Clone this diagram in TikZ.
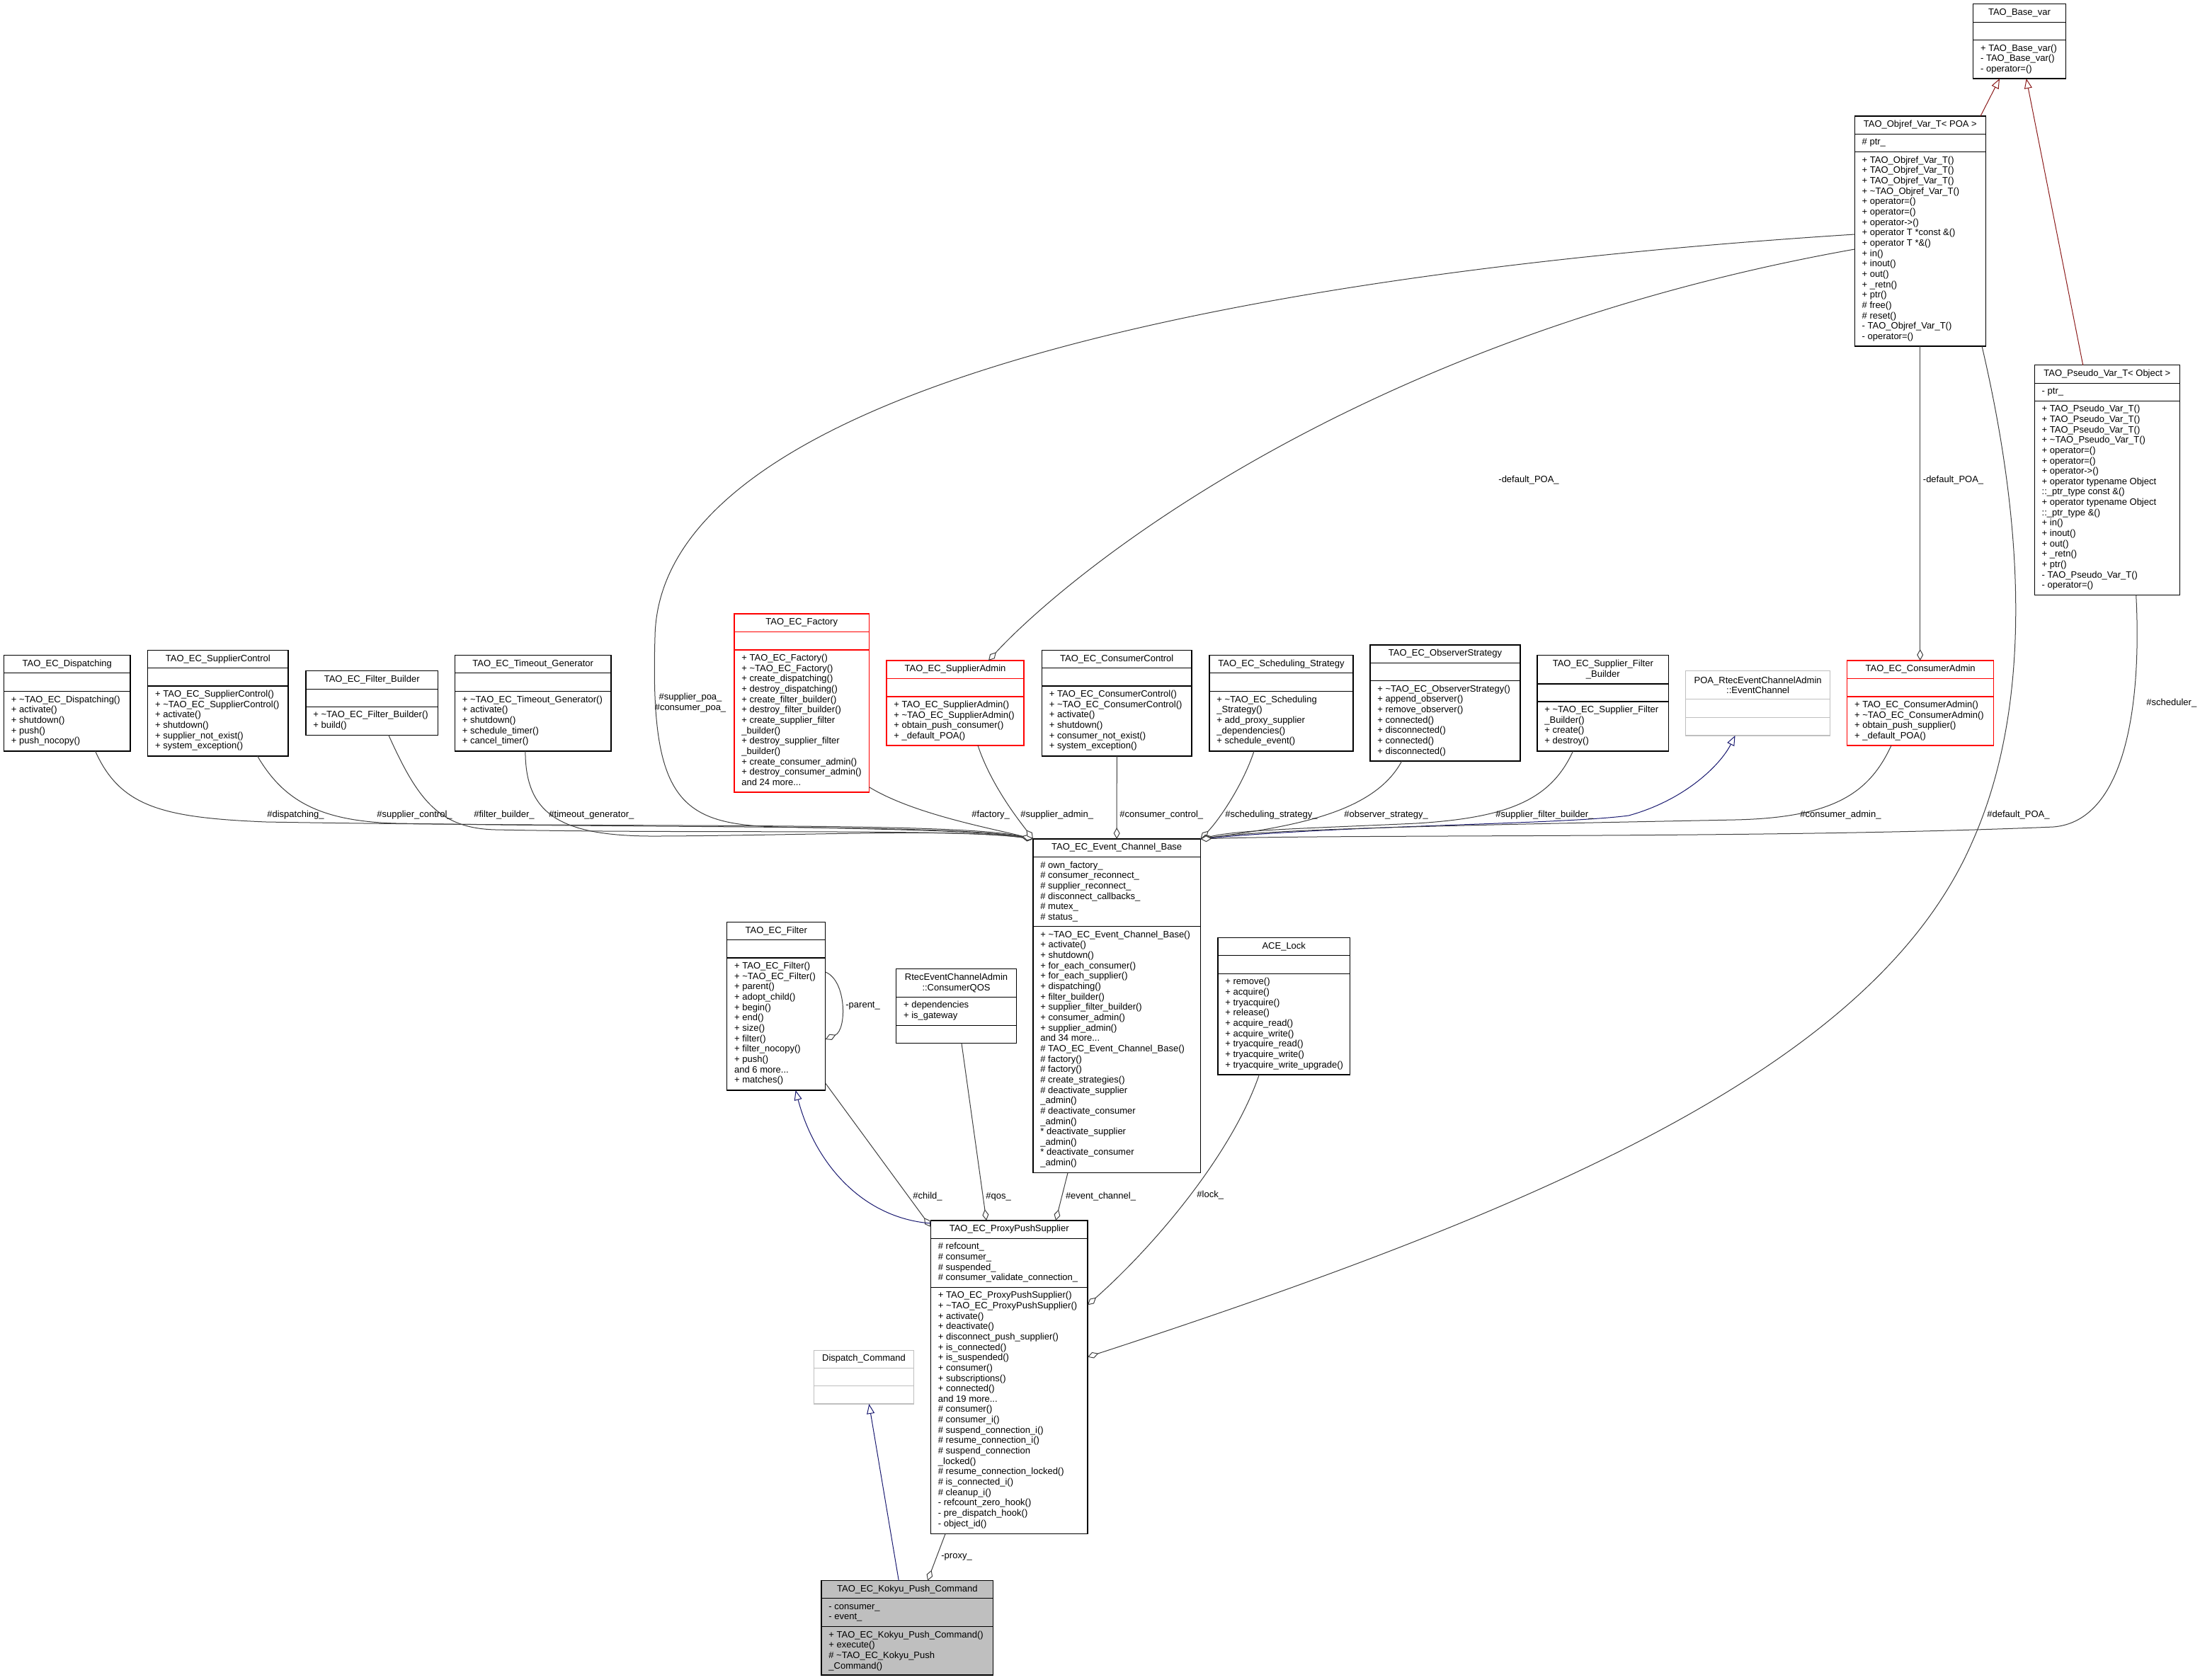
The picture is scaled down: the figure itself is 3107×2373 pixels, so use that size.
\documentclass[tikz,border=0pt]{standalone}
\usepackage{fontspec}
\setmainfont{Liberation Sans}
\usetikzlibrary{arrows.meta,calc}
\newcommand\lstfont{\fontsize{6.5pt}{7.33pt}\selectfont}
\newcommand\fs{\rule{0pt}{5pt}}
\newcommand\tld{\textasciitilde}
\definecolor{edgec}{HTML}{404040}
\definecolor{inhb}{HTML}{191970}
\definecolor{inhr}{HTML}{8B1A1A}
\definecolor{extg}{HTML}{BFBFBF}
\definecolor{kfill}{HTML}{BFBFBF}
\tikzset{
  boxsty/.style={anchor=north west, inner sep=0pt, outer sep=0pt, line width=0.6pt, fill=white},
  ttl/.style={anchor=base, inner sep=0pt, font=\lstfont},
  ttlc/.style={anchor=center, inner sep=0pt, font=\lstfont, align=center},
  lst/.style={anchor=north west, inner sep=0pt, font=\lstfont, align=left},
  lbl/.style={anchor=west, inner sep=0pt, font=\lstfont},
  agg/.style={draw=edgec, line width=0.5pt, -{Diamond[fill=white,length=8pt,width=4.5pt]}},
  inhB/.style={draw=inhb, line width=0.5pt, -{Triangle[fill=white,length=7pt,width=5.5pt]}},
  inhR/.style={draw=inhr, line width=0.5pt, -{Triangle[fill=white,length=7pt,width=5.5pt]}},
}
\newcommand\umlbox[9][]{%
  \def\cxa{#3}\def\cya{#4}\def\cxb{#5}\def\cda{#7}\def\cdb{#8}%
  \node[boxsty,draw=#9,#1,minimum width={(#5-#3)*0.5pt},minimum height={(#6-#4)*0.5pt}] (#2) at (#3,#4) {};
  \draw[#9,line width=0.6pt] (#3,#7) -- (#5,#7) (#3,#8) -- (#5,#8);
}
\newcommand\umltext[4]{%
  \node[ttl] (#1t) at ({(\cxa+\cxb)/2},\cya+15.5) {#2};
  \if\relax\detokenize{#3}\relax\else
  \node[lst] (#1a) at (\cxa+10,\cda+5) {\fs#3};\fi
  \if\relax\detokenize{#4}\relax\else
  \node[lst] (#1m) at (\cxa+10,\cdb+5) {\fs#4};\fi
}
\newcommand\umltextB[4]{%
  \node[ttlc] (#1t) at ({(\cxa+\cxb)/2},{(\cya+\cda)/2}) {#2};
  \if\relax\detokenize{#3}\relax\else
  \node[lst] (#1a) at (\cxa+10,\cda+5) {\fs#3};\fi
  \if\relax\detokenize{#4}\relax\else
  \node[lst] (#1m) at (\cxa+10,\cdb+5) {\fs#4};\fi
}
\begin{document}
\begin{tikzpicture}[x=0.5pt,y=-0.5pt]
\fill[white] (0,0) rectangle (3107,2373);
\useasboundingbox (0,0) rectangle (3107,2373);

% ---------- boxes ----------
\umlbox{basevar}{2786.7}{5.7}{2917.3}{111}{31.3}{56.7}{black}
\umltext{basevar}{TAO\_Base\_var}{}{+ TAO\_Base\_var()\\- TAO\_Base\_var()\\- operator=()}

\umlbox{objref}{2619.3}{164}{2804.3}{489}{189.3}{214.7}{black}
\umltext{objref}{TAO\_Objref\_Var\_T< POA >}{\# ptr\_}{+ TAO\_Objref\_Var\_T()\\+ TAO\_Objref\_Var\_T()\\+ TAO\_Objref\_Var\_T()\\+ \tld{}TAO\_Objref\_Var\_T()\\+ operator=()\\+ operator=()\\+ operator->()\\+ operator T *const \&()\\+ operator T *\&()\\+ in()\\+ inout()\\+ out()\\+ \_retn()\\+ ptr()\\\# free()\\\# reset()\\- TAO\_Objref\_Var\_T()\\- operator=()}

\umlbox{pseudo}{2873.3}{515.7}{3078.3}{840.7}{541.3}{566.3}{black}
\umltext{pseudo}{TAO\_Pseudo\_Var\_T< Object >}{- ptr\_}{+ TAO\_Pseudo\_Var\_T()\\+ TAO\_Pseudo\_Var\_T()\\+ TAO\_Pseudo\_Var\_T()\\+ \tld{}TAO\_Pseudo\_Var\_T()\\+ operator=()\\+ operator=()\\+ operator->()\\+ operator typename Object\\::\_ptr\_type const \&()\\+ operator typename Object\\::\_ptr\_type \&()\\+ in()\\+ inout()\\+ out()\\+ \_retn()\\+ ptr()\\- TAO\_Pseudo\_Var\_T()\\- operator=()}

\umlbox{dispatching}{5.6}{925.7}{184}{1061}{950.7}{976.7}{black}
\umltext{dispatching}{TAO\_EC\_Dispatching}{}{+ \tld{}TAO\_EC\_Dispatching()\\+ activate()\\+ shutdown()\\+ push()\\+ push\_nocopy()}

\umlbox{supctrl}{208.8}{918.7}{406.9}{1068}{943.7}{969}{black}
\umltext{supctrl}{TAO\_EC\_SupplierControl}{}{+ TAO\_EC\_SupplierControl()\\+ \tld{}TAO\_EC\_SupplierControl()\\+ activate()\\+ shutdown()\\+ supplier\_not\_exist()\\+ system\_exception()}

\umlbox{filtbuild}{432}{947.7}{618.4}{1038.3}{973.3}{998.3}{black}
\umltext{filtbuild}{TAO\_EC\_Filter\_Builder}{}{+ \tld{}TAO\_EC\_Filter\_Builder()\\+ build()}

\umlbox{timeout}{642.5}{925.7}{863}{1061}{950.7}{976.7}{black}
\umltext{timeout}{TAO\_EC\_Timeout\_Generator}{}{+ \tld{}TAO\_EC\_Timeout\_Generator()\\+ activate()\\+ shutdown()\\+ schedule\_timer()\\+ cancel\_timer()}

\umlbox{factory}{1037}{867}{1227.4}{1119}{892.7}{918}{red}
\umltext{factory}{TAO\_EC\_Factory}{}{+ TAO\_EC\_Factory()\\+ \tld{}TAO\_EC\_Factory()\\+ create\_dispatching()\\+ destroy\_dispatching()\\+ create\_filter\_builder()\\+ destroy\_filter\_builder()\\+ create\_supplier\_filter\\\_builder()\\+ destroy\_supplier\_filter\\\_builder()\\+ create\_consumer\_admin()\\+ destroy\_consumer\_admin()\\and 24 more...}

\umlbox{supadmin}{1252}{933}{1446}{1053}{958.7}{984}{red}
\umltext{supadmin}{TAO\_EC\_SupplierAdmin}{}{+ TAO\_EC\_SupplierAdmin()\\+ \tld{}TAO\_EC\_SupplierAdmin()\\+ obtain\_push\_consumer()\\+ \_default\_POA()}

\umlbox{conctrl}{1471.5}{918.7}{1683}{1068}{943.7}{969}{black}
\umltext{conctrl}{TAO\_EC\_ConsumerControl}{}{+ TAO\_EC\_ConsumerControl()\\+ \tld{}TAO\_EC\_ConsumerControl()\\+ activate()\\+ shutdown()\\+ consumer\_not\_exist()\\+ system\_exception()}

\umlbox{sched}{1708}{925.7}{1911}{1061}{950.7}{976.7}{black}
\umltext{sched}{TAO\_EC\_Scheduling\_Strategy}{}{+ \tld{}TAO\_EC\_Scheduling\\\_Strategy()\\+ add\_proxy\_supplier\\\_dependencies()\\+ schedule\_event()}

\umlbox{observer}{1935}{911}{2147}{1075}{936.7}{961.7}{black}
\umltext{observer}{TAO\_EC\_ObserverStrategy}{}{+ \tld{}TAO\_EC\_ObserverStrategy()\\+ append\_observer()\\+ remove\_observer()\\+ connected()\\+ disconnected()\\+ connected()\\+ disconnected()}

\umlbox{supfiltbuild}{2171}{925.7}{2356.6}{1061}{966}{991}{black}
\umltextB{supfiltbuild}{TAO\_EC\_Supplier\_Filter\\\_Builder}{}{+ \tld{}TAO\_EC\_Supplier\_Filter\\\_Builder()\\+ create()\\+ destroy()}

\umlbox{poaec}{2380.5}{947.7}{2584.8}{1039}{987.7}{1013.3}{extg}
\umltextB{poaec}{POA\_RtecEventChannelAdmin\\::EventChannel}{}{}

\umlbox{conadmin}{2608.7}{933}{2815.6}{1053}{958.7}{984}{red}
\umltext{conadmin}{TAO\_EC\_ConsumerAdmin}{}{+ TAO\_EC\_ConsumerAdmin()\\+ \tld{}TAO\_EC\_ConsumerAdmin()\\+ obtain\_push\_supplier()\\+ \_default\_POA()}

\umlbox{ecb}{1459}{1185}{1695.4}{1656.7}{1210.7}{1308.7}{black}
\umltext{ecb}{TAO\_EC\_Event\_Channel\_Base}{\# own\_factory\_\\\# consumer\_reconnect\_\\\# supplier\_reconnect\_\\\# disconnect\_callbacks\_\\\# mutex\_\\\# status\_}{+ \tld{}TAO\_EC\_Event\_Channel\_Base()\\+ activate()\\+ shutdown()\\+ for\_each\_consumer()\\+ for\_each\_supplier()\\+ dispatching()\\+ filter\_builder()\\+ supplier\_filter\_builder()\\+ consumer\_admin()\\+ supplier\_admin()\\and 34 more...\\\# TAO\_EC\_Event\_Channel\_Base()\\\# factory()\\\# factory()\\\# create\_strategies()\\\# deactivate\_supplier\\\_admin()\\\# deactivate\_consumer\\\_admin()\\{}* deactivate\_supplier\\\_admin()\\{}* deactivate\_consumer\\\_admin()}

\umlbox{filter}{1026.8}{1302.7}{1165.7}{1540}{1327.7}{1353}{black}
\umltext{filter}{TAO\_EC\_Filter}{}{+ TAO\_EC\_Filter()\\+ \tld{}TAO\_EC\_Filter()\\+ parent()\\+ adopt\_child()\\+ begin()\\+ end()\\+ size()\\+ filter()\\+ filter\_nocopy()\\+ push()\\and 6 more...\\+ matches()}

\umlbox{qos}{1265.7}{1368.7}{1435.4}{1473.7}{1408.3}{1448.3}{black}
\umltextB{qos}{RtecEventChannelAdmin\\::ConsumerQOS}{+ dependencies\\+ is\_gateway}{}

\umlbox{acelock}{1720}{1324.5}{1906.5}{1518}{1349.7}{1375.3}{black}
\umltext{acelock}{ACE\_Lock}{}{+ remove()\\+ acquire()\\+ tryacquire()\\+ release()\\+ acquire\_read()\\+ acquire\_write()\\+ tryacquire\_read()\\+ tryacquire\_write()\\+ tryacquire\_write\_upgrade()}

\umlbox{pps}{1314.5}{1724}{1536}{2166.7}{1749.3}{1818.3}{black}
\umltext{pps}{TAO\_EC\_ProxyPushSupplier}{\# refcount\_\\\# consumer\_\\\# suspended\_\\\# consumer\_validate\_connection\_}{+ TAO\_EC\_ProxyPushSupplier()\\+ \tld{}TAO\_EC\_ProxyPushSupplier()\\+ activate()\\+ deactivate()\\+ disconnect\_push\_supplier()\\+ is\_connected()\\+ is\_suspended()\\+ consumer()\\+ subscriptions()\\+ connected()\\and 19 more...\\\# consumer()\\\# consumer\_i()\\\# suspend\_connection\_i()\\\# resume\_connection\_i()\\\# suspend\_connection\\\_locked()\\\# resume\_connection\_locked()\\\# is\_connected\_i()\\\# cleanup\_i()\\- refcount\_zero\_hook()\\- pre\_dispatch\_hook()\\- object\_id()}

\umlbox{dispcmd}{1149.3}{1907.3}{1290.7}{1983}{1932.3}{1957.7}{extg}
\umltext{dispcmd}{Dispatch\_Command}{}{}

\umlbox[fill=kfill]{kokyu}{1160}{2232.7}{1402.7}{2366}{2257.7}{2297.7}{black}
\umltext{kokyu}{TAO\_EC\_Kokyu\_Push\_Command}{- consumer\_\\- event\_}{+ TAO\_EC\_Kokyu\_Push\_Command()\\+ execute()\\\# \tld{}TAO\_EC\_Kokyu\_Push\\\_Command()}

% ---------- edges ----------
\draw[agg] ($(objref.north west)+(0,167)$) .. controls (1700,390) and (930,560) .. (925,900) .. controls (918,1130) and (960,1165) .. (1100,1168) .. controls (1300,1172) and (1400,1175) .. (ecb.north west);
\draw[agg] ($(dispatching.south west)+(129,0)$) .. controls (170,1140) and (230,1155) .. (376,1161) .. controls (900,1170) and (1350,1160) .. (ecb.north west);
\draw[agg] ($(supctrl.south west)+(154.8,0)$) .. controls (400,1130) and (450,1160) .. (560,1163) .. controls (1000,1170) and (1350,1165) .. (ecb.north west);
\draw[agg] ($(filtbuild.south west)+(116.8,0)$) .. controls (590,1130) and (620,1170) .. (700,1172) .. controls (1000,1178) and (1350,1170) .. (ecb.north west);
\draw[agg] ($(timeout.south west)+(99.4,0)$) .. controls (742,1150) and (790,1182) .. (930,1181) .. controls (1150,1180) and (1350,1170) .. (ecb.north west);
\draw[agg] ($(factory.south east)+(0,-7.3)$) .. controls (1290,1150) and (1400,1170) .. (ecb.north west);
\draw[agg] ($(supadmin.south west)+(129,0)$) .. controls (1400,1110) and (1440,1160) .. (ecb.north west);
\draw[agg] (conctrl.south) -- (ecb.north);
\draw[agg] ($(sched.south west)+(63,0)$) .. controls (1755,1110) and (1720,1160) .. (ecb.north east);
\draw[agg] ($(observer.south west)+(44.7,0)$) .. controls (1940,1150) and (1820,1168) .. (ecb.north east);
\draw[agg] ($(supfiltbuild.south west)+(50.5,0)$) .. controls (2190,1130) and (2130,1155) .. (2000,1163) .. controls (1850,1170) and (1750,1172) .. (ecb.north east);
\draw[inhB] (ecb.north east) .. controls (1900,1165) and (2200,1165) .. (2300,1152) .. controls (2380,1130) and (2430,1080) .. ($(poaec.south west)+(70,0)$);
\draw[agg] ($(conadmin.south west)+(62.3,0)$) .. controls (2640,1120) and (2590,1155) .. (2450,1158) .. controls (2100,1165) and (1800,1170) .. (ecb.north east);
\draw[agg] ($(pseudo.south west)+(143.4,0)$) .. controls (3025,1000) and (3000,1160) .. (2900,1168) .. controls (2500,1185) and (1900,1178) .. (ecb.north east);
\draw[agg] ($(objref.south east)+(-5.3,0)$) .. controls (2860,750) and (2870,1000) .. (2785,1190) .. controls (2650,1500) and (2200,1700) .. ($(pps.north east)+(0,192.7)$);
\draw[agg] ($(objref.north west)+(0,188)$) .. controls (1900,480) and (1500,820) .. ($(supadmin.north west)+(144,0)$);
\draw[agg] ($(objref.south west)+(92.4,0)$) -- ($(conadmin.north west)+(103,0)$);
\draw[agg] ($(acelock.south west)+(58.3,0)$) .. controls (1740,1630) and (1630,1760) .. ($(pps.north east)+(0,119.3)$);
\draw[agg] ($(ecb.south west)+(49,0)$) -- ($(pps.north west)+(176.5,0)$);
\draw[agg] ($(qos.south west)+(92.3,0)$) -- ($(pps.north west)+(78.5,0)$);
\draw[agg] ($(filter.south east)+(0,-10)$) -- ($(pps.north west)+(0,9)$);
\draw[inhB] ($(pps.north west)+(0,4)$) .. controls (1215,1720) and (1150,1640) .. ($(filter.south west)+(96.8,0)$);
\draw[agg] ($(filter.north east)+(0,70.3)$) .. controls (1196,1385) and (1196,1455) .. ($(filter.north east)+(0,165.3)$);
\draw[agg] ($(pps.south west)+(20.5,0)$) -- ($(kokyu.north west)+(150,0)$);
\draw[inhB] ($(kokyu.north west)+(109.3,0)$) -- ($(dispcmd.south west)+(78,0)$);
\draw[inhR] ($(objref.north west)+(177.7,0)$) -- ($(basevar.south west)+(37.3,0)$);
\draw[inhR] ($(pseudo.north west)+(68.4,0)$) -- ($(basevar.south west)+(75,0)$);

% ---------- labels ----------
\node[anchor=center, inner sep=0pt, font=\lstfont, align=center] (lsuppoa) at (975,992.5) {\#supplier\_poa\_\\\#consumer\_poa\_};
\node[lbl] (ldisp) at (377,1151) {\#dispatching\_};
\node[lbl] (lsupc) at (532,1151) {\#supplier\_control\_};
\node[lbl] (lfb) at (669,1151) {\#filter\_builder\_};
\node[lbl] (ltg) at (775,1151) {\#timeout\_generator\_};
\node[lbl] (lfac) at (1372,1151) {\#factory\_};
\node[lbl] (lsa) at (1441,1151) {\#supplier\_admin\_};
\node[lbl] (lcc) at (1581,1151) {\#consumer\_control\_};
\node[lbl] (lss) at (1730,1151) {\#scheduling\_strategy\_};
\node[lbl] (los) at (1898,1151) {\#observer\_strategy\_};
\node[lbl] (lsfb) at (2112,1151) {\#supplier\_filter\_builder\_};
\node[lbl] (lca) at (2542,1151) {\#consumer\_admin\_};
\node[lbl] (ldp) at (2806,1151) {\#default\_POA\_};
\node[lbl] (lsch) at (3031,993) {\#scheduler\_};
\node[lbl] (ldp1) at (2116,677.7) {-default\_POA\_};
\node[lbl] (ldp2) at (2715.5,677.7) {-default\_POA\_};
\node[lbl] (lpar) at (1194,1420.7) {-parent\_};
\node[lbl] (lchild) at (1289,1690) {\#child\_};
\node[lbl] (lqos) at (1392,1690) {\#qos\_};
\node[lbl] (lec) at (1504.6,1690) {\#event\_channel\_};
\node[lbl] (llock) at (1690,1688) {\#lock\_};
\node[lbl] (lprox) at (1329,2199) {-proxy\_};
\end{tikzpicture}
\end{document}
